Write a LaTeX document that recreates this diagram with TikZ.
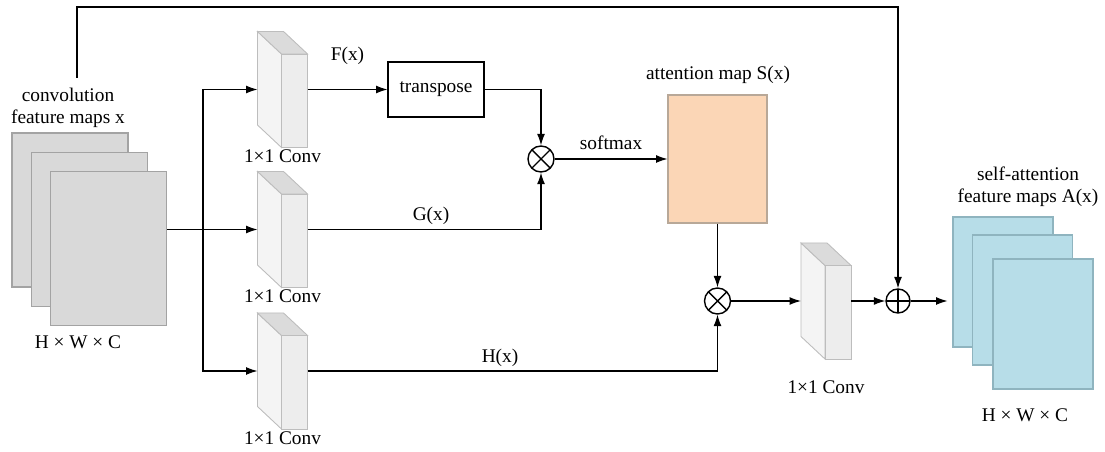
\documentclass[tikz,border=0pt]{standalone}
\usepackage{fontspec}
\setmainfont{Liberation Serif}
\usepackage{tikz}
\usetikzlibrary{positioning,calc,arrows.meta}

\definecolor{mapgray}{HTML}{D9D9D9}
\definecolor{mapedge}{HTML}{A3A3A3}
\definecolor{attnfill}{HTML}{FBD6B6}
\definecolor{attnedge}{HTML}{B8A898}
\definecolor{outfill}{HTML}{B7DDE8}
\definecolor{outedge}{HTML}{8FB4BF}
\definecolor{convfront}{HTML}{EDEDED}
\definecolor{convside}{HTML}{F4F4F4}
\definecolor{convtop}{HTML}{DBDBDB}
\definecolor{convedge}{HTML}{BDBDBD}

\tikzset{
  convbox/.style={rectangle, draw=none, minimum width=0.98cm, minimum height=2.3cm, inner sep=0pt},
  featmap/.style={rectangle, draw=mapedge, fill=mapgray, line width=0.6pt, minimum width=2.32cm, minimum height=3.08cm},
  outmap/.style={rectangle, draw=outedge, fill=outfill, line width=0.6pt, minimum width=2cm, minimum height=2.6cm},
  mulnode/.style={circle, draw, fill=white, line width=0.8pt, minimum size=0.52cm, inner sep=0pt,
    path picture={\draw[line width=0.8pt] (path picture bounding box.north west) -- (path picture bounding box.south east)
      (path picture bounding box.north east) -- (path picture bounding box.south west);}},
  addnode/.style={circle, draw, fill=white, line width=0.8pt, minimum size=0.48cm, inner sep=0pt,
    path picture={\draw[line width=0.8pt] (path picture bounding box.north) -- (path picture bounding box.south)
      (path picture bounding box.west) -- (path picture bounding box.east);}},
  lbl/.style={inner sep=0pt, align=center}
}

% 1x1 conv cuboid: #1 name, #2 position
\newcommand{\convblock}[2]{%
  \node[convbox] (#1) at #2 {};
  \filldraw[fill=convside, draw=convedge, line width=0.5pt] (#1.north west) -- ++(24,-22.5)
    -- ($(#1.south west)+(24,0)$) -- ++(-24,22.5) -- cycle;
  \filldraw[fill=convtop, draw=convedge, line width=0.5pt] (#1.north west) -- ($(#1.north east)+(-24,0)$)
    -- ($(#1.north east)+(0,-22.5)$) -- ($(#1.north west)+(24,-22.5)$) -- cycle;
  \filldraw[fill=convfront, draw=convedge, line width=0.5pt] ($(#1.north west)+(24,-22.5)$) rectangle (#1.south east);
}

\begin{document}
\begin{tikzpicture}[x=0.02cm, y=0.02cm, >={Latex[length=6.5pt,width=4.5pt]}, line width=0.6pt,
  font=\fontsize{11}{12.5}\selectfont]
    \useasboundingbox (0,0) rectangle (1105,-452);

    % input feature maps
    \node[featmap] (inmap1) at (70,-210) {};
    \node[featmap] (inmap2) at (89.5,-229.5) {};
    \node[featmap] (inmap3) at (108.5,-248.5) {};
    \node[lbl] (inlabel) at (68,-108) {convolution\\feature maps x};
    \node[lbl] (inshape) at (78,-342) {H × W × C};

    % three 1x1 conv branches
    \convblock{conv1}{(282.5,-89.5)}
    \convblock{conv2}{(282.5,-229.5)}
    \convblock{conv3}{(282.5,-371)}
    \node[lbl, below=1pt of conv1] (conv1lbl) {1×1 Conv};
    \node[lbl, below=1pt of conv2] (conv2lbl) {1×1 Conv};
    \node[lbl, below=1pt of conv3] (conv3lbl) {1×1 Conv};

    \coordinate (split) at (203,-229.5);
    \draw[->] (inmap3.east |- conv2.west) -- (conv2.west);
    \draw[->] (split) |- (conv1.west);
    \draw[->] (split) |- (conv3.west);

    % attention branch
    \node[draw, rectangle, minimum width=1.92cm, minimum height=1.1cm] (trans) at (436,-89.5) {transpose};
    \node[mulnode] (mul1) at (541,-159) {};
    \node[rectangle, draw=attnedge, fill=attnfill, minimum width=1.98cm, minimum height=2.56cm] (attn) at (717.5,-159) {};
    \node[lbl] (attnlbl) at (718,-75) {attention map S(x)};
    \node[mulnode] (mul2) at (717.5,-301) {};

    \draw[->] (conv1.east) -- (trans.west) node[lbl, midway, above=14pt] (flbl) {F(x)};
    \draw[->] (trans.east) -| (mul1.north);
    \draw[->] (conv2.east) -| (mul1.south);
    \node[lbl] (glbl) at (431,-216) {G(x)};
    \draw[->] (mul1.east) -- (attn.west) node[lbl, midway, above=5pt] (smlbl) {softmax};
    \draw[->] (attn.south) -- (mul2.north);
    \draw[->] (conv3.east) -| (mul2.south);
    \node[lbl] (hlbl) at (500,-358) {H(x)};

    % output conv and residual sum
    \convblock{conv4}{(826,-301)}
    \node[lbl] (conv4lbl) at (826,-387) {1×1 Conv};
    \node[addnode] (add) at (898,-301) {};
    \draw[->] (mul2.east) -- (conv4.west);
    \draw[->] (conv4.east) -- (add.west);

    \coordinate (skipstart) at (77,-78);
    \coordinate (skiptop) at (77,-7);
    \draw[->] (skipstart) -- (skiptop) -| (add.north);

    % output feature maps
    \node[outmap] (outmap1) at (1003,-282) {};
    \node[outmap] (outmap2) at (1022.5,-300) {};
    \node[outmap] (outmap3) at (1043,-324) {};
    \node[lbl] (outlabel) at (1028,-187) {self-attention\\feature maps A(x)};
    \node[lbl] (outshape) at (1025,-415) {H × W × C};
    \draw[->, shorten >=0.1cm] (add.east) -- (add.east -| outmap1.west);
\end{tikzpicture}
\end{document}
